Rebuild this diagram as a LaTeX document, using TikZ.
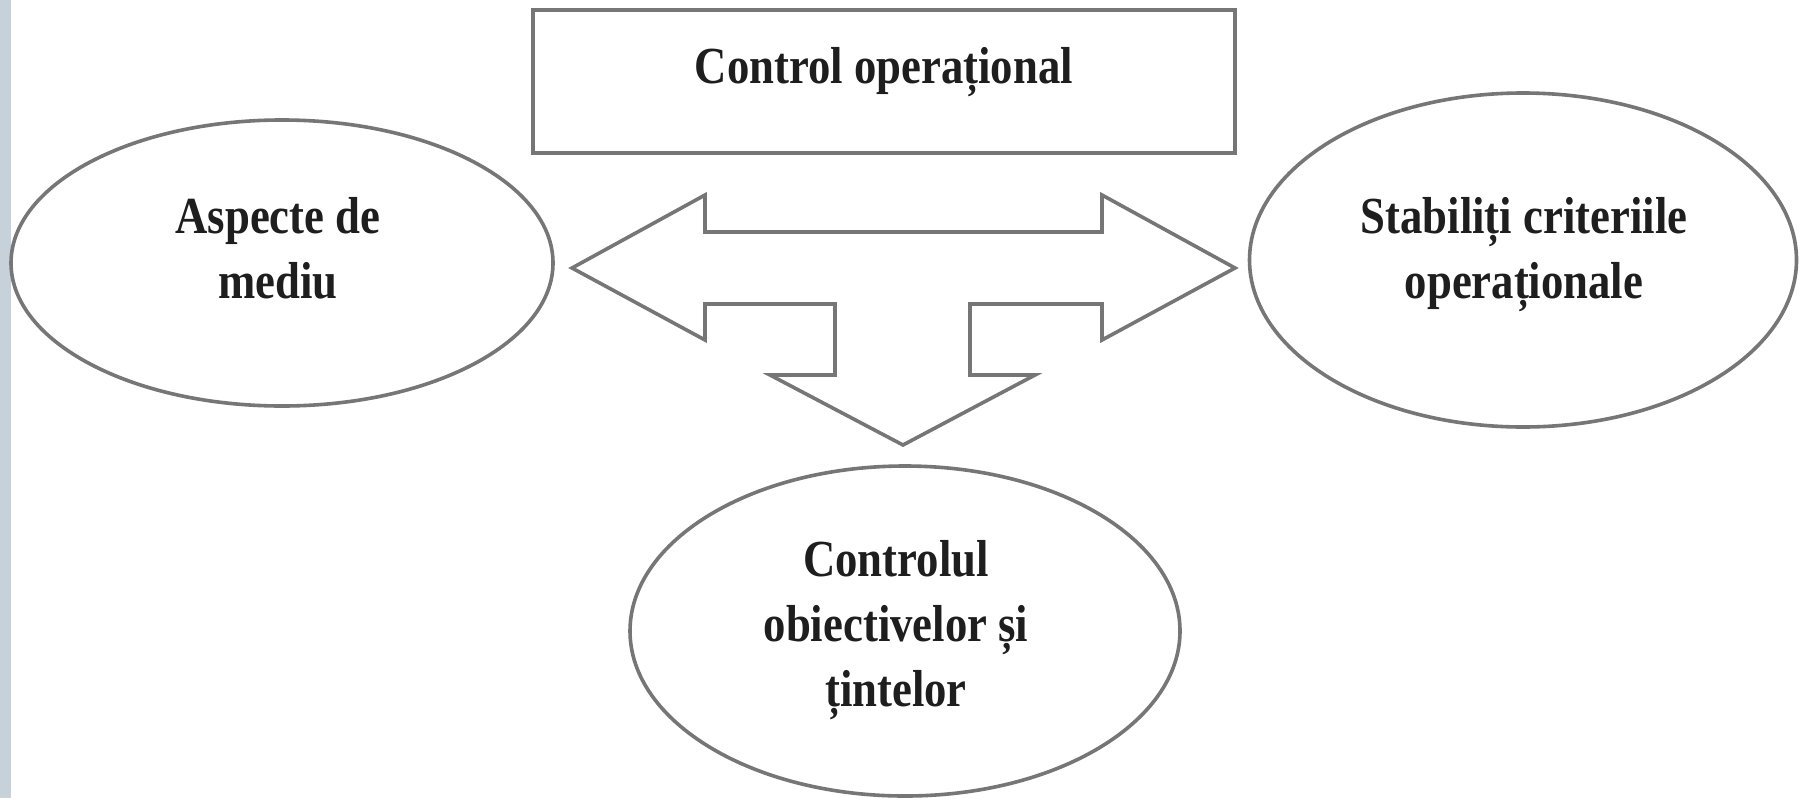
\documentclass[tikz,border=0pt]{standalone}
\usepackage{fontspec}
\setmainfont{Liberation Serif}[FakeStretch=0.86]
\usetikzlibrary{shapes.geometric}
\definecolor{strip}{HTML}{C6D1DA}
\definecolor{edge}{HTML}{767676}
\definecolor{ink}{HTML}{1E1E1E}
% centred lines whose baseline is the baseline of the first line
\newcommand{\stacktext}[1]{\begin{tabular}[t]{@{}c@{}}#1\end{tabular}}
\begin{document}
\begin{tikzpicture}[x=1pt,y=-1pt,
  outline/.style={draw=edge, line width=3.6pt},
  bubble/.style={outline, ellipse, inner sep=0pt, fill=white},
  frame/.style={draw=edge, line width=4.5pt, rectangle, inner sep=0pt, fill=white},
  lbl/.style={text=ink, font=\fontsize{52}{65}\selectfont\bfseries, inner sep=0pt, anchor=base}]
\useasboundingbox (0,0) rectangle (1806,798);
\fill[white] (0,0) rectangle (1806,798);
\fill[strip] (0,0) rectangle (11,798);

% title box
\node[frame, minimum width=702pt, minimum height=143pt] (ctrl) at (884,81.5) {};
\node[lbl] (ctrltxt) at (884,83) {Control operațional};

% the three ellipses
\node[bubble, minimum width=542pt, minimum height=286pt] (mediu) at (282,263) {};
\node[lbl] (mediutxt) at (278,233) {\stacktext{Aspecte de\\mediu}};

\node[bubble, minimum width=547pt, minimum height=334pt] (crit) at (1523,260) {};
\node[lbl] (crittxt) at (1524,233) {\stacktext{Stabiliți criteriile\\operaționale}};

\node[bubble, minimum width=550pt, minimum height=330pt] (obj) at (905,631) {};
\node[lbl] (objtxt) at (896,576) {\stacktext{Controlul\\obiectivelor și\\țintelor}};

% three-way block arrow
\draw[outline, fill=white, line join=miter]
  (572,268) -- (705,195) -- (705,232) -- (1102,232) -- (1102,195)
  -- (1235,268) -- (1102,340) -- (1102,304) -- (970,304) -- (970,375)
  -- (1035,375) -- (903,445) -- (770,375) -- (835,375) -- (835,304)
  -- (705,304) -- (705,340) -- cycle;
\end{tikzpicture}
\end{document}
